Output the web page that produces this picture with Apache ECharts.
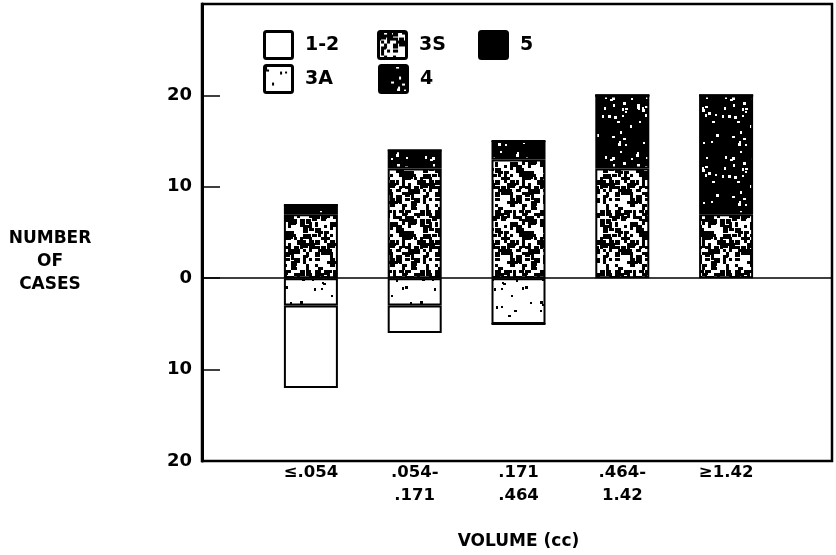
<!DOCTYPE html>
<html>
<head>
<meta charset="utf-8">
<script src="https://cdn.jsdelivr.net/npm/echarts@6/dist/echarts.min.js"></script>
<style>
html,body{margin:0;padding:0;background:#fff;}
#chart{width:836px;height:555px;}
</style>
</head>
<body>
<div id="chart"></div>
<script>
// ---- data ----
const categories = ['≤.054', '.054-\n.171', '.171\n.464', '.464-\n1.42', '≥1.42'];
// above zero
const grade3S = [7, 12, 13, 12, 7];
const grade4  = [1, 2, 2, 8, 13];
const grade5  = [0, 0, 0, 0, 0];
// below zero (counts, drawn downward)
const grade3A = [3, 3, 5, 0, 0];
const grade12 = [9, 3, 0, 0, 0];
const yTicks = [-20, -10, 0, 10, 20];

// ---- texture patterns (deterministic) ----
function lcg(seed){ let s = seed; return function(){ s = (s * 1664525 + 1013904223) % 4294967296; return s / 4294967296; }; }
function makePattern(kind){
  const c = document.createElement('canvas');
  c.width = 60; c.height = 60;
  const g = c.getContext('2d');
  const r = lcg(kind === '3S' ? 17 : kind === '3A' ? 91 : 233);
  if (kind === '3S') {
    g.fillStyle = '#fff'; g.fillRect(0,0,60,60);
    g.fillStyle = '#000';
    for (let y = 0; y < 60; y += 3) for (let x = 0; x < 60; x += 3) {
      if (r() < 0.43) g.fillRect(x, y, 3 + (r() < 0.35 ? 2 : 0), 3 + (r() < 0.35 ? 2 : 0));
    }
  } else if (kind === '3A') {
    g.fillStyle = '#fff'; g.fillRect(0,0,60,60);
    g.fillStyle = '#000';
    for (let i = 0; i < 26; i++) g.fillRect(Math.floor(r()*57), Math.floor(r()*57), 2 + (r()<0.4?1:0), 2 + (r()<0.4?1:0));
  } else if (kind === '4') {
    g.fillStyle = '#000'; g.fillRect(0,0,60,60);
    g.fillStyle = '#fff';
    for (let i = 0; i < 40; i++) g.fillRect(Math.floor(r()*57), Math.floor(r()*57), 2 + (r()<0.4?1:0), 2 + (r()<0.4?1:0));
  }
  return { image: c, repeat: 'repeat' };
}
const fill3S = makePattern('3S');
const fill3A = makePattern('3A');
const fill4 = makePattern('4');

const FONT = 'DejaVu Sans';
const chart = echarts.init(document.getElementById('chart'), null, {renderer: 'canvas'});

function bar(name, data, color){
  return {
    name: name, type: 'bar', stack: 'a', xAxisIndex: 1, yAxisIndex: 1,
    data: data, barWidth: 54,
    itemStyle: { color: color, borderColor: '#000', borderWidth: 2 },
    emphasis: { disabled: true }, animation: false
  };
}
function legend(name, left, top){
  return {
    data: [name], left: left, top: top, padding: 0,
    icon: 'path://M2,0 L26,0 Q28,0 28,2 L28,25 Q28,27 26,27 L2,27 Q0,27 0,25 L0,2 Q0,0 2,0 Z',
    itemWidth: 29, itemHeight: 27,
    itemStyle: { borderColor: '#000', borderWidth: 3 },
    textStyle: { fontFamily: FONT, fontWeight: 'bold', fontSize: 19, color: '#000', padding: [0,0,0,7] },
    selectedMode: false
  };
}

const option = {
  backgroundColor: '#fff',
  animation: false,
  grid: [
    { left: 202, right: 4, top: 4, bottom: 94, show: true, borderColor: '#000', borderWidth: 2.5, backgroundColor: 'transparent' },
    { left: 259, right: 58, top: 4, bottom: 94 }
  ],
  xAxis: [
    { gridIndex: 0, type: 'value', min: 0, max: 1,
      axisLine: { show: true, onZero: true, lineStyle: { color: '#000', width: 1.5 } },
      axisTick: { show: false }, axisLabel: { show: false }, splitLine: { show: false } },
    { gridIndex: 1, type: 'category', data: categories,
      axisLine: { show: false }, axisTick: { show: false }, splitLine: { show: false },
      axisLabel: { margin: 0, fontFamily: FONT, fontWeight: 'bold', fontSize: 16.5, color: '#000', lineHeight: 23, interval: 0 },
      name: 'VOLUME (cc)', nameLocation: 'middle', nameGap: 72,
      nameTextStyle: { fontFamily: FONT, fontWeight: 'bold', fontSize: 17, color: '#000' } }
  ],
  yAxis: [
    { gridIndex: 0, type: 'value', min: -20, max: 30, interval: 10,
      axisLine: { show: true, lineStyle: { color: '#000', width: 3 } },
      axisTick: { show: true, inside: true, length: 18, lineStyle: { color: '#000', width: 1.5 } },
      axisLabel: { margin: 10, fontFamily: FONT, fontWeight: 'bold', fontSize: 18, color: '#000',
        formatter: function(v){ return yTicks.indexOf(v) >= 0 ? String(Math.abs(v)) : ''; } },
      splitLine: { show: false } },
    { gridIndex: 1, type: 'value', min: -20, max: 30, interval: 10, show: false }
  ],
  legend: [
    legend('1-2', 263, 30),
    legend('3S', 377, 30),
    legend('5', 478, 30),
    legend('3A', 263, 64),
    legend('4', 378, 64)
  ],
  graphic: [
    { type: 'text', x: 50, y: 262,
      style: { text: 'NUMBER\nOF\nCASES', fill: '#000', font: 'bold 17px "DejaVu Sans"',
        textAlign: 'center', textVerticalAlign: 'middle', lineHeight: 23 } }
  ],
  series: [
    bar('3S', grade3S, fill3S),
    bar('4', grade4, fill4),
    bar('5', grade5, '#000'),
    bar('3A', grade3A.map(v => -v), fill3A),
    bar('1-2', grade12.map(v => -v), '#fff')
  ]
};
chart.setOption(option);
</script>
</body>
</html>
